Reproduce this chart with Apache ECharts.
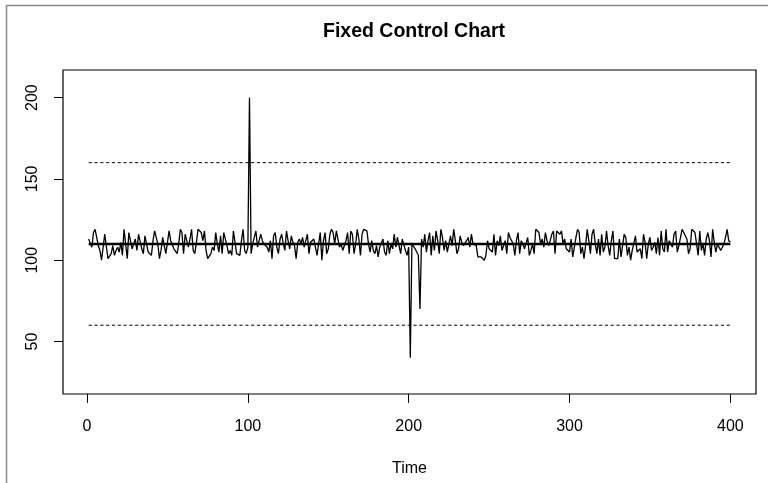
<!DOCTYPE html>
<html>
<head>
<meta charset="utf-8">
<script src="https://cdn.jsdelivr.net/npm/echarts@6/dist/echarts.min.js"></script>
<style>
html,body{margin:0;padding:0;background:#fff;}
#chart{width:768px;height:483px;}
</style>
</head>
<body>
<div id="chart"></div>
<script>
// Observations (index 1..400)
const values = [
113,112,108,117,119,118,109,106,100,108,
116,117,101,102,104,109,103,106,108,105,
111,103,119,118,101,117,116,107,110,113,
106,116,115,107,104,115,114,105,104,103,
112,118,119,110,101,106,114,109,104,103,
118,112,112,107,107,104,110,119,117,104,
116,115,108,113,119,106,104,111,119,118,
117,112,118,106,101,100,104,108,106,117,
110,105,115,104,117,118,109,104,106,103,
118,111,104,104,103,112,119,106,104,108,
200,104,110,109,118,108,107,116,112,110,
109,108,105,112,101,115,117,108,104,113,
116,110,106,118,112,107,115,111,109,101,
111,113,110,114,108,109,116,104,111,110,
113,108,103,110,117,100,112,117,104,107,
116,119,117,110,118,119,108,110,106,105,
112,117,104,118,116,104,110,119,113,103,
116,119,119,118,110,105,112,106,104,109,
102,108,107,113,105,103,112,104,110,107,
116,108,114,115,104,113,114,106,103,108,
40,110,109,107,106,103,70,113,108,116,
105,112,117,103,115,106,118,112,104,119,
114,106,112,105,104,115,109,119,112,104,
107,115,111,109,110,112,114,108,116,110,
110,109,102,101,102,101,100,103,112,107,
108,105,116,103,112,109,115,106,107,112,
104,117,114,112,110,103,112,117,104,112,
110,107,108,114,103,106,110,104,119,118,
117,110,113,108,117,112,109,112,116,118,
104,118,119,116,118,110,113,107,106,105,
113,102,102,114,119,117,104,108,101,109,
119,112,104,116,119,110,104,113,103,116,
105,108,118,109,103,112,118,101,102,101,
113,102,109,116,114,103,108,100,106,107,
115,105,104,107,101,116,111,101,110,114,
106,108,111,104,114,103,118,107,105,119,
105,112,111,108,116,118,105,109,110,119,
118,115,113,104,107,119,118,117,110,103,
118,106,110,103,113,117,112,102,119,111,
105,110,108,106,107,110,114,119,112,111
];
const centerValue = 110;
const upperLimit = 160;
const lowerLimit = 60;
const xTicks = [0, 100, 200, 300, 400];
const yTicks = [50, 100, 150, 200];
const titleText = 'Fixed Control Chart';
const xName = 'Time';

const n = values.length;
const seriesData = values.map((v, i) => [i + 1, v]);
const hline = (v) => [[1, v], [n, v]];

const chart = echarts.init(document.getElementById('chart'), null, {renderer: 'canvas'});
const font = 'Liberation Sans, Helvetica, Arial, sans-serif';
chart.setOption({
  animation: false,
  backgroundColor: '#fff',
  title: {
    text: titleText, left: 409, top: 17, textAlign: 'center',
    textStyle: {fontFamily: font, fontWeight: 'bold', fontSize: 19.5, color: '#000'}
  },
  graphic: [{
    type: 'rect', left: 4, top: 3, silent: true,
    shape: {width: 800, height: 600},
    style: {fill: 'none', stroke: '#8a8a8a', lineWidth: 1.5}
  }],
  grid: {left: 63, right: 12, top: 70, bottom: 89, show: true, borderColor: '#000', borderWidth: 1.2, backgroundColor: 'transparent'},
  xAxis: {
    type: 'value', min: -14.96, max: 415.96,
    name: xName, nameLocation: 'middle', nameGap: 67,
    nameTextStyle: {fontFamily: font, fontSize: 16, color: '#000'},
    axisLine: {show: false, onZero: false},
    splitLine: {show: false},
    axisTick: {show: true, length: 9, customValues: xTicks, lineStyle: {color: '#000', width: 1}},
    axisLabel: {customValues: xTicks, margin: 25, fontFamily: font, fontSize: 16, color: '#000'}
  },
  yAxis: {
    type: 'value', min: 17.7, max: 217,
    axisLine: {show: false, onZero: false},
    splitLine: {show: false},
    axisTick: {show: true, length: 9, customValues: yTicks, lineStyle: {color: '#000', width: 1}},
    axisLabel: {customValues: yTicks, rotate: 90, margin: 22, fontFamily: font, fontSize: 16, color: '#000'}
  },
  series: [
    {type: 'line', data: seriesData, showSymbol: false, symbol: 'none',
     lineStyle: {color: '#000', width: 1.3}, z: 2},
    {type: 'line', data: hline(centerValue), showSymbol: false, symbol: 'none',
     lineStyle: {color: '#000', width: 2.6}, z: 3},
    {type: 'line', data: hline(upperLimit), showSymbol: false, symbol: 'none',
     lineStyle: {color: '#000', width: 1, type: [3.2, 2.6]}, z: 3},
    {type: 'line', data: hline(lowerLimit), showSymbol: false, symbol: 'none',
     lineStyle: {color: '#000', width: 1, type: [3.2, 2.6]}, z: 3}
  ]
});
</script>
</body>
</html>
